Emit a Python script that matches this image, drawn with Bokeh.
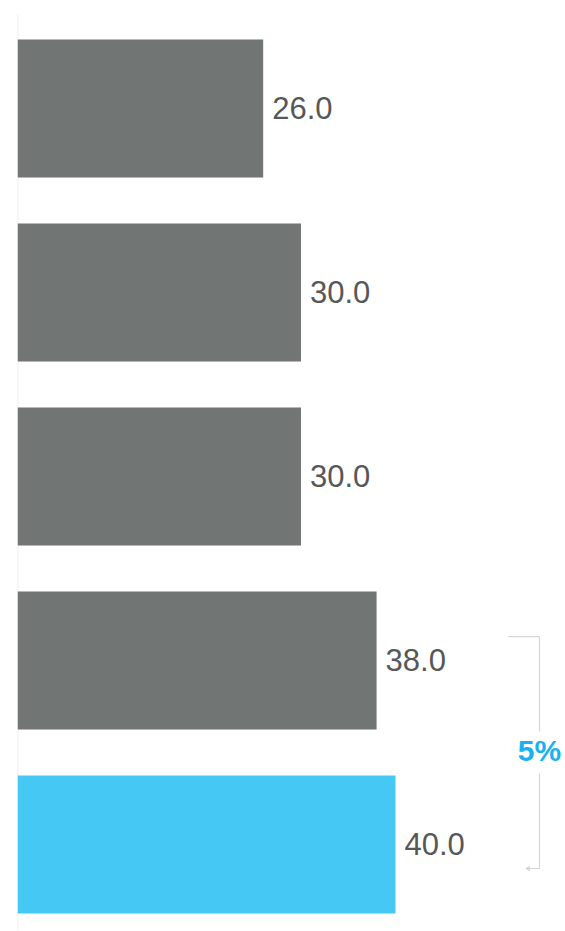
from bokeh.plotting import figure
from bokeh.models import Range1d, ColumnDataSource
from bokeh.core.properties import value
from bokeh.embed import file_html
from bokeh.resources import INLINE

# data
positions = [1, 2, 3, 4, 5]
values = [26.0, 30.0, 30.0, 38.0, 40.0]
labels = ["26.0", "30.0", "30.0", "38.0", "40.0"]
colors = ["#717574", "#717574", "#717574", "#717574", "#46c8f4"]
change_label = "5%"

W, H = 565, 931
p = figure(width=W, height=H, output_backend="svg", toolbar_location=None,
           x_range=Range1d(0, 57.99), y_range=Range1d(5.467, 0.489),
           min_border_left=17, min_border_right=0, min_border_top=14, min_border_bottom=1)
p.axis.visible = False
p.grid.visible = False
p.outline_line_color = None
p.background_fill_color = "white"
p.border_fill_color = "white"

# vertical baseline
p.segment(x0=[0], y0=[0.489], x1=[0], y1=[5.467], line_color="#efefef", line_width=2)

src = ColumnDataSource(dict(y=positions, right=values, color=colors, label=labels))
p.hbar(y="y", right="right", left=0, height=0.75, fill_color="color", line_color=None, source=src)
p.text(x="right", y="y", text="label", source=src, x_offset=9, y_offset=-1,
       text_font=value("Liberation Sans"), text_font_size="31px",
       text_color="#575757", text_baseline="middle", text_align="left")

# bracket between last two bars
bx = 55.24
y_top = positions[3] - 0.13
y_bot = positions[4] + 0.13
mid = (positions[3] + positions[4]) / 2
gap = 0.114
lc = "#d6d6d6"
p.segment(x0=[bx, bx, bx, bx], y0=[y_top, mid + gap, y_top, y_bot],
          x1=[bx, bx, bx - 3.28, bx - 1.16], y1=[mid - gap, y_bot, y_top, y_bot],
          line_color=lc, line_width=1.2)
p.scatter(x=[bx - 1.2], y=[y_bot], marker="triangle", angle=1.5708, size=4,
          fill_color=lc, line_color=lc)
p.text(x=[bx], y=[mid], text=[change_label], text_font=value("Liberation Sans"),
       text_font_size="30px", text_font_style="bold", text_color="#1bb0f2",
       text_align="center", text_baseline="middle", y_offset=-2)

open("out.html", "w").write(file_html(p, INLINE))
